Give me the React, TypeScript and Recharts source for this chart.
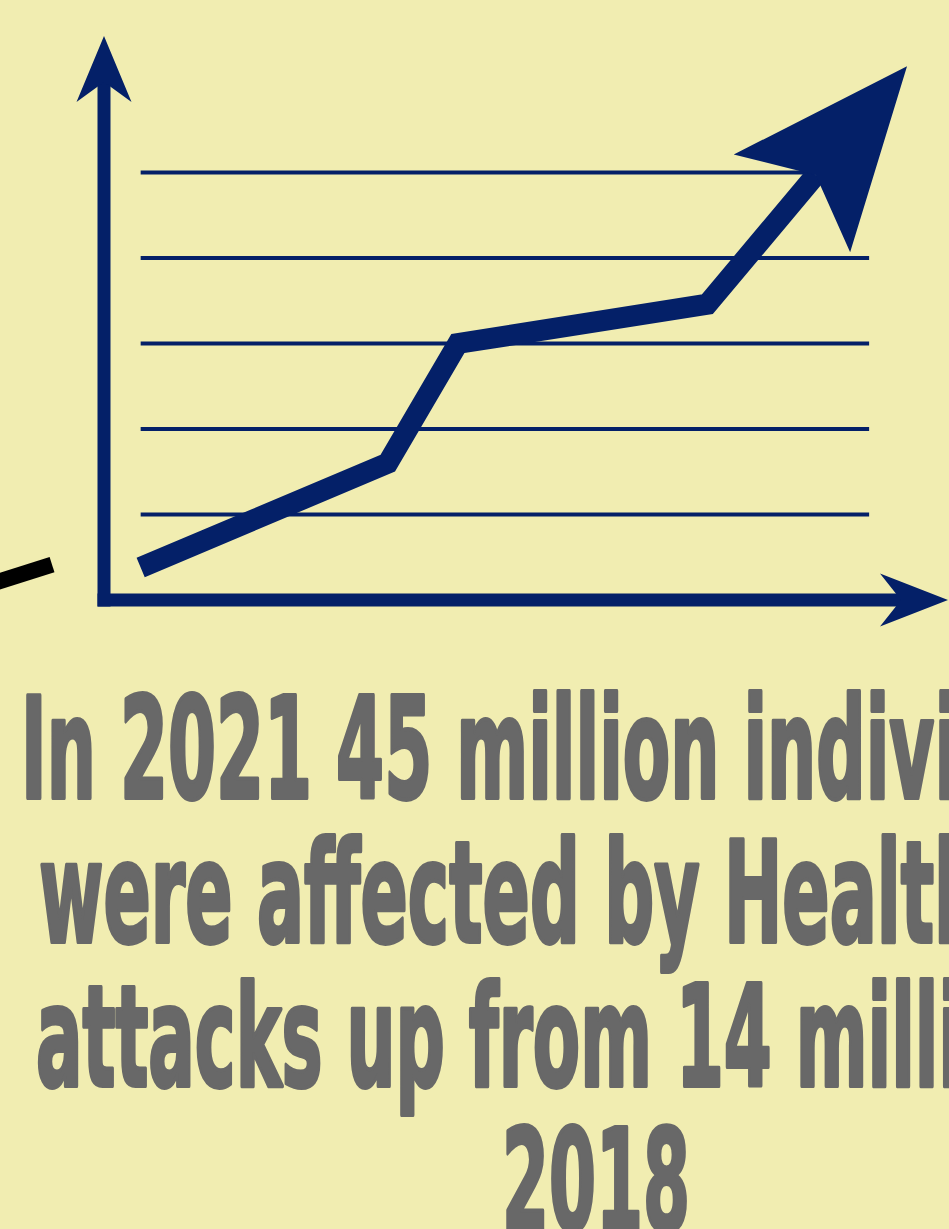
import React from "react";
import { LineChart, Line, XAxis, YAxis, ReferenceLine } from "recharts";

// ---------------------------------------------------------------------------
// Data
// ---------------------------------------------------------------------------
const trendX = [0.46, 3.56, 4.44, 7.57, 8.93];
const trendY = [0.38, 1.6, 3.0, 3.46, 4.97];

const gridValues = [1, 2, 3, 4, 5];
const gridSpan = [0.46, 9.6];

const xDomain = [0, 10];
const yDomain = [0, 6];

// cropped black stroke at the left edge
const strayX = [-1.45, -0.652];
const strayY = [0.179, 0.415];

const captionLines = [
  "In 2021 45 million individuals",
  "were affected by Healthcare",
  "attacks up from 14 million in",
  "2018",
];

const trendData = trendX.map((x, i) => ({ x, y: trendY[i] }));

const BG = "#f1edb1";
const NAVY = "#042068";
const GREY = "#686868";

// caption layout: start x, baseline y, fitted length
const captionLayout = [
  { x: 21, y: 798, len: 1147 },
  { x: 39, y: 942, len: 1115 },
  { x: 36, y: 1086, len: 1119 },
  { x: 502, y: 1230, len: 188 },
];

export default function App() {
  return (
    <div style={{ position: "relative", width: 949, height: 1229, background: BG, overflow: "hidden" }}>
      <style>{`body{margin:0;}`}</style>
      <LineChart
        width={949}
        height={660}
        data={trendData}
        margin={{ top: 87, right: 48, bottom: 60, left: 104 }}
      >
        <defs>
          <marker
            id="trendHead"
            markerUnits="userSpaceOnUse"
            orient="auto"
            viewBox="-40 -80 190 160"
            markerWidth={190}
            markerHeight={160}
            refX={0}
            refY={0}
          >
            <path d="M -37 -76 L 142 0 L -37 76 L 0 0 Z" fill={NAVY} />
          </marker>
          <marker
            id="xHead"
            markerUnits="userSpaceOnUse"
            orient="auto"
            viewBox="-22 -27 70 54"
            markerWidth={70}
            markerHeight={54}
            refX={0}
            refY={0}
          >
            <path d="M -21 -26.5 L 47 0 L -21 26.5 L 0 0 Z" fill={NAVY} />
          </marker>
          <marker
            id="yHead"
            markerUnits="userSpaceOnUse"
            orient="auto"
            viewBox="-16 -28 68 56"
            markerWidth={68}
            markerHeight={56}
            refX={0}
            refY={0}
          >
            <path d="M -15 -27.5 L 51 0 L -15 27.5 L 5 0 Z" fill={NAVY} />
          </marker>
        </defs>
        <XAxis dataKey="x" type="number" domain={xDomain} hide />
        <YAxis type="number" domain={yDomain} hide />
        {gridValues.map((v) => (
          <ReferenceLine
            key={v}
            segment={[
              { x: gridSpan[0], y: v },
              { x: gridSpan[1], y: v },
            ]}
            stroke={NAVY}
            strokeWidth={4}
            ifOverflow="visible"
          />
        ))}
        {/* axes with arrow heads */}
        <ReferenceLine
          segment={[
            { x: xDomain[0], y: yDomain[0] },
            { x: xDomain[0], y: yDomain[1] },
          ]}
          stroke={NAVY}
          strokeWidth={13}
          strokeLinecap="square"
          markerEnd="url(#yHead)"
          ifOverflow="visible"
        />
        <ReferenceLine
          segment={[
            { x: xDomain[0], y: yDomain[0] },
            { x: xDomain[1], y: yDomain[0] },
          ]}
          stroke={NAVY}
          strokeWidth={13}
          strokeLinecap="square"
          markerEnd="url(#xHead)"
          ifOverflow="visible"
        />
        <ReferenceLine
          segment={[
            { x: strayX[0], y: strayY[0] },
            { x: strayX[1], y: strayY[1] },
          ]}
          stroke="#000000"
          strokeWidth={16}
          ifOverflow="visible"
        />
        <Line
          type="linear"
          dataKey="y"
          stroke={NAVY}
          strokeWidth={21}
          strokeLinejoin="miter"
          dot={false}
          activeDot={false}
          markerEnd="url(#trendHead)"
          isAnimationActive={false}
        />
      </LineChart>
      <svg
        width={949}
        height={1229}
        style={{ position: "absolute", left: 0, top: 0, pointerEvents: "none" }}
      >
        {captionLines.map((line, i) => (
          <text
            key={line}
            x={captionLayout[i].x}
            y={captionLayout[i].y}
            textLength={captionLayout[i].len}
            lengthAdjust="spacingAndGlyphs"
            fontFamily="'DejaVu Sans Condensed', 'DejaVu Sans', sans-serif"
            fontWeight={700}
            fontSize={140}
            fill={GREY}
            stroke={GREY}
            strokeWidth={4}
            strokeLinejoin="round"
          >
            {line}
          </text>
        ))}
      </svg>
    </div>
  );
}
